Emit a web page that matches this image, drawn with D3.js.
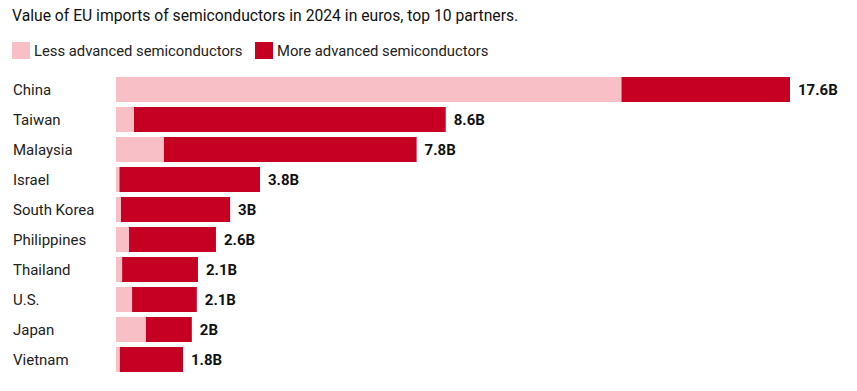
<!DOCTYPE html>
<html>
<head>
<meta charset="utf-8">
<script src="https://cdn.jsdelivr.net/npm/d3@7"></script>
<style>
  html, body { margin: 0; padding: 0; background: #ffffff; }
  svg { display: block; font-family: Roboto, "Noto Sans", sans-serif; }
</style>
</head>
<body>
<svg id="chart" width="857" height="391"></svg>
<script>
const categories = ["China", "Taiwan", "Malaysia", "Israel", "South Korea", "Philippines", "Thailand", "U.S.", "Japan", "Vietnam"];
const lessAdvanced = [13.2, 0.47, 1.25, 0.09, 0.13, 0.34, 0.16, 0.42, 0.78, 0.10];
const moreAdvanced = [4.4, 8.14, 6.6, 3.67, 2.85, 2.27, 1.98, 1.69, 1.20, 1.65];
const totalLabels = ["17.6B", "8.6B", "7.8B", "3.8B", "3B", "2.6B", "2.1B", "2.1B", "2B", "1.8B"];
const seriesNames = ["Less advanced semiconductors", "More advanced semiconductors"];
const colors = ["#f8bfc6", "#c50022"];
const title = "Value of EU imports of semiconductors in 2024 in euros, top 10 partners.";

const svg = d3.select("#chart");

svg.append("text")
  .attr("x", 12).attr("y", 21)
  .attr("font-size", 15.7).attr("fill", "#111")
  .text(title);

// legend
const legend = svg.append("g");
const lx = [12, 255];
seriesNames.forEach((name, i) => {
  legend.append("rect").attr("x", lx[i]).attr("y", 42).attr("width", 18).attr("height", 17).attr("fill", colors[i]);
  legend.append("text").attr("x", lx[i] + 22).attr("y", 55.5).attr("font-size", 14.8).attr("fill", "#222").text(name);
});

const data = categories.map((c, i) => ({ cat: c, less: lessAdvanced[i], more: moreAdvanced[i], label: totalLabels[i] }));

const y = d3.scaleBand().domain(categories).range([74.5, 374.5]).paddingInner(1/6).paddingOuter(1/12);
const x = d3.scaleLinear().domain([0, d3.max(data, d => d.less + d.more)]).range([116, 790]);

const stack = d3.stack().keys(["less", "more"]);
const stacked = stack(data);

svg.append("g").selectAll("g").data(stacked).join("g")
  .attr("fill", (d, i) => colors[i])
  .selectAll("rect").data(d => d).join("rect")
  .attr("x", d => x(d[0]))
  .attr("y", d => y(d.data.cat))
  .attr("width", d => x(d[1]) - x(d[0]))
  .attr("height", y.bandwidth());

// category labels
svg.append("g").selectAll("text").data(data).join("text")
  .attr("x", 13)
  .attr("y", d => y(d.cat) + y.bandwidth() / 2)
  .attr("dy", "0.35em")
  .attr("font-size", 15).attr("fill", "#222")
  .text(d => d.cat);

// value labels
svg.append("g").selectAll("text").data(data).join("text")
  .attr("x", d => x(d.less + d.more) + 8)
  .attr("y", d => y(d.cat) + y.bandwidth() / 2)
  .attr("dy", "0.35em")
  .attr("font-size", 15).attr("font-weight", "bold").attr("fill", "#111")
  .text(d => d.label);
</script>
</body>
</html>
